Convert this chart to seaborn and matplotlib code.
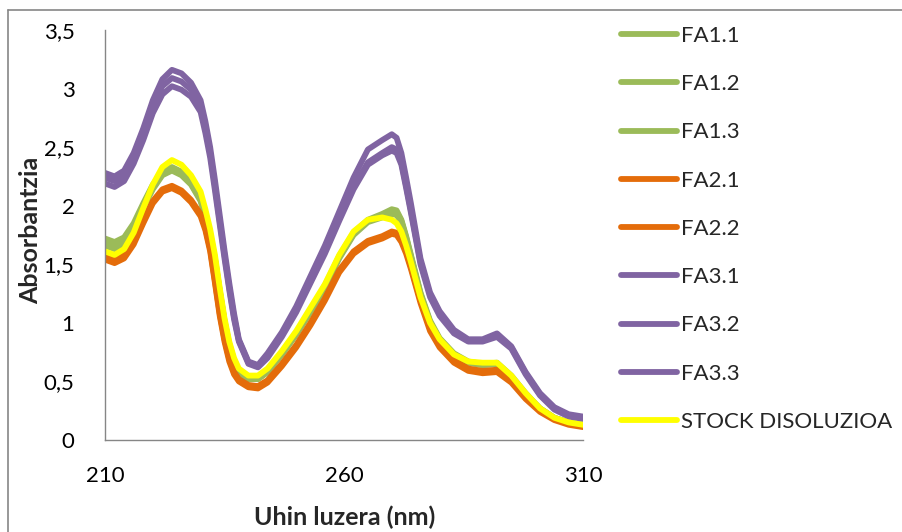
import matplotlib
matplotlib.use("Agg")
import matplotlib.pyplot as plt
import seaborn as sns
import pandas as pd
from matplotlib.lines import Line2D
from matplotlib.ticker import FuncFormatter

wavelength = [210, 212, 214, 216, 218, 220, 222, 224, 226, 228, 230, 231, 232, 233, 234, 235, 236, 237, 238,
              240, 242, 244, 247, 250, 253, 256, 259, 262, 265, 268, 270, 271, 272, 273, 274, 276, 278, 280,
              283, 286, 289, 292, 295, 298, 301, 304, 307, 310]

fa1_1 = [1.72, 1.69, 1.73, 1.85, 2.02, 2.18, 2.29, 2.33, 2.29, 2.20, 2.06, 1.92, 1.76, 1.55, 1.28, 1.02, 0.82, 0.68, 0.59,
         0.53, 0.53, 0.59, 0.74, 0.91, 1.11, 1.32, 1.57, 1.77, 1.88, 1.93, 1.97, 1.96, 1.88, 1.74, 1.58, 1.26, 1.02, 0.87,
         0.74, 0.67, 0.65, 0.66, 0.55, 0.40, 0.27, 0.19, 0.15, 0.13]
fa1_2 = [1.69, 1.66, 1.70, 1.83, 2.00, 2.16, 2.28, 2.32, 2.28, 2.19, 2.05, 1.91, 1.75, 1.54, 1.27, 1.01, 0.81, 0.67, 0.58,
         0.52, 0.52, 0.58, 0.73, 0.90, 1.10, 1.31, 1.56, 1.76, 1.87, 1.92, 1.95, 1.94, 1.87, 1.73, 1.57, 1.25, 1.01, 0.86,
         0.73, 0.66, 0.64, 0.65, 0.54, 0.39, 0.27, 0.19, 0.15, 0.13]
fa1_3 = [1.66, 1.63, 1.67, 1.80, 1.98, 2.14, 2.26, 2.30, 2.26, 2.18, 2.04, 1.90, 1.74, 1.53, 1.26, 1.00, 0.80, 0.66, 0.57,
         0.52, 0.52, 0.58, 0.73, 0.90, 1.09, 1.30, 1.55, 1.75, 1.86, 1.90, 1.93, 1.92, 1.86, 1.72, 1.56, 1.24, 1.00, 0.86,
         0.73, 0.66, 0.64, 0.65, 0.54, 0.39, 0.26, 0.18, 0.14, 0.12]
fa2_1 = [1.57, 1.54, 1.58, 1.69, 1.87, 2.04, 2.14, 2.17, 2.13, 2.05, 1.93, 1.81, 1.63, 1.36, 1.08, 0.86, 0.69, 0.58, 0.52,
         0.47, 0.46, 0.51, 0.65, 0.81, 1.00, 1.21, 1.45, 1.61, 1.70, 1.74, 1.78, 1.77, 1.71, 1.61, 1.48, 1.19, 0.95, 0.81,
         0.68, 0.61, 0.59, 0.60, 0.51, 0.37, 0.25, 0.18, 0.14, 0.12]
fa2_2 = [1.54, 1.51, 1.55, 1.67, 1.85, 2.02, 2.12, 2.15, 2.11, 2.03, 1.91, 1.79, 1.61, 1.34, 1.06, 0.84, 0.67, 0.56, 0.50,
         0.45, 0.44, 0.49, 0.63, 0.79, 0.98, 1.19, 1.43, 1.59, 1.68, 1.72, 1.76, 1.75, 1.69, 1.59, 1.46, 1.17, 0.93, 0.79,
         0.66, 0.59, 0.57, 0.58, 0.49, 0.35, 0.24, 0.17, 0.13, 0.11]
fa3_1 = [2.28, 2.25, 2.30, 2.45, 2.66, 2.90, 3.08, 3.16, 3.13, 3.05, 2.90, 2.72, 2.50, 2.22, 1.92, 1.62, 1.34, 1.08, 0.86,
         0.67, 0.64, 0.74, 0.92, 1.14, 1.40, 1.66, 1.95, 2.24, 2.48, 2.56, 2.61, 2.58, 2.45, 2.24, 2.02, 1.55, 1.26, 1.10,
         0.94, 0.86, 0.86, 0.91, 0.80, 0.58, 0.40, 0.28, 0.22, 0.20]
fa3_2 = [2.24, 2.21, 2.26, 2.41, 2.62, 2.85, 3.02, 3.09, 3.06, 2.99, 2.85, 2.67, 2.45, 2.17, 1.87, 1.58, 1.30, 1.05, 0.85,
         0.66, 0.63, 0.72, 0.90, 1.11, 1.36, 1.61, 1.89, 2.16, 2.37, 2.45, 2.50, 2.48, 2.37, 2.17, 1.96, 1.52, 1.24, 1.08,
         0.92, 0.85, 0.85, 0.90, 0.79, 0.57, 0.39, 0.27, 0.21, 0.19]
fa3_3 = [2.19, 2.16, 2.21, 2.36, 2.56, 2.79, 2.95, 3.02, 2.99, 2.93, 2.80, 2.62, 2.41, 2.13, 1.84, 1.55, 1.28, 1.03, 0.84,
         0.65, 0.62, 0.70, 0.88, 1.09, 1.34, 1.59, 1.87, 2.14, 2.35, 2.43, 2.47, 2.45, 2.35, 2.15, 1.94, 1.50, 1.22, 1.06,
         0.91, 0.84, 0.84, 0.88, 0.78, 0.56, 0.38, 0.26, 0.20, 0.18]
stock = [1.61, 1.58, 1.63, 1.77, 1.98, 2.18, 2.33, 2.39, 2.35, 2.26, 2.12, 1.97, 1.80, 1.58, 1.30, 1.04, 0.84, 0.70, 0.61,
         0.55, 0.55, 0.61, 0.76, 0.93, 1.13, 1.33, 1.58, 1.78, 1.88, 1.90, 1.88, 1.85, 1.78, 1.66, 1.52, 1.22, 1.00, 0.86,
         0.73, 0.67, 0.66, 0.66, 0.55, 0.40, 0.27, 0.19, 0.15, 0.13]

series_names = ["FA1.1", "FA1.2", "FA1.3", "FA2.1", "FA2.2", "FA3.1", "FA3.2", "FA3.3", "STOCK DISOLUZIOA"]
series_values = [fa1_1, fa1_2, fa1_3, fa2_1, fa2_2, fa3_1, fa3_2, fa3_3, stock]
x_ticks = [210, 260, 310]
y_ticks = [0, 0.5, 1, 1.5, 2, 2.5, 3, 3.5]

GREEN, ORANGE, PURPLE, YELLOW = "#9BBB59", "#E46C0A", "#8064A2", "#FFFF00"
palette = dict(zip(series_names, [GREEN, GREEN, GREEN, ORANGE, ORANGE, PURPLE, PURPLE, PURPLE, YELLOW]))

rows = []
for name, vals in zip(series_names, series_values):
    for w, v in zip(wavelength, vals):
        rows.append({"wl": w, "abs": v, "series": name})
df = pd.DataFrame(rows)

sns.set_theme(style="white")
plt.rcParams["font.family"] = ["Lato", "DejaVu Sans"]

fig = plt.figure(figsize=(9.03, 5.32), dpi=100)
ax = fig.add_axes([105 / 903, 1 - 440 / 532, (583 - 105) / 903, (440 - 30) / 532])

LW = 4.2
sns.lineplot(data=df, x="wl", y="abs", hue="series", hue_order=series_names, palette=palette,
             linewidth=LW, sort=False, legend=False, ax=ax, solid_capstyle="round", solid_joinstyle="round")

ax.set_xlim(210, 310)
ax.set_ylim(0, 3.5)
ax.set_xticks(x_ticks)
ax.set_yticks(y_ticks)
fmt = FuncFormatter(lambda v, p: (f"{v:g}").replace(".", ","))
ax.yaxis.set_major_formatter(fmt)
ax.tick_params(axis="both", length=0, labelsize=16, colors="#000000")
ax.tick_params(axis="y", pad=22)
ax.tick_params(axis="x", pad=19)
for s in ["top", "right"]:
    ax.spines[s].set_visible(False)
for s in ["left", "bottom"]:
    ax.spines[s].set_color("#868686")
    ax.spines[s].set_linewidth(1.0)
ax.grid(False)

ax.set_xlabel("Uhin luzera (nm)", fontsize=18, fontweight="bold")
ax.set_ylabel("Absorbantzia", fontsize=18, fontweight="bold")
ax.xaxis.set_label_coords((345 - 105) / 478, -(506 - 440) / 410)
ax.yaxis.set_label_coords(-(105 - 42) / 478, (440 - 230) / 410)

handles = [Line2D([0], [0], color=palette[n], lw=LW, solid_capstyle="round") for n in series_names]
fig.legend(handles, series_names, loc="upper left", bbox_to_anchor=(621 / 903, 1 - 26 / 532),
           frameon=False, fontsize=16, handlelength=2.5, handletextpad=0.2, labelspacing=1.27,
           borderaxespad=0, borderpad=0)

# chart-area border (left and top edges visible)
fig.add_artist(Line2D([8 / 903, 8 / 903], [0, 1 - 10 / 532], transform=fig.transFigure, color="#868686", lw=1.2))
fig.add_artist(Line2D([8 / 903, 1], [1 - 10 / 532, 1 - 10 / 532], transform=fig.transFigure, color="#868686", lw=1.2))

fig.savefig("out.png", dpi=100)
